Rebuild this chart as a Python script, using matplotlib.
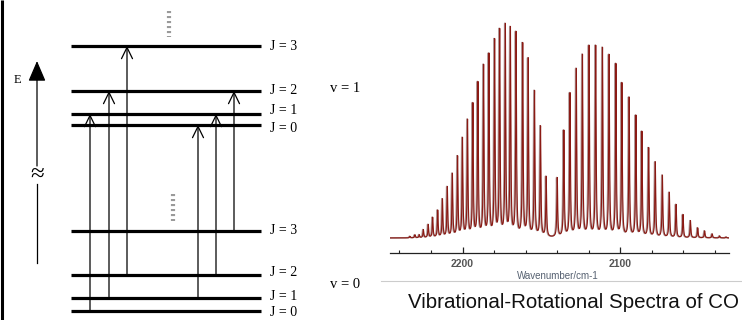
import numpy as np
import matplotlib
matplotlib.use('Agg')
import matplotlib.pyplot as plt

# ─── Energy level diagram (figure pixel coords, y downward) ─────────────────
upper_levels_y = [46, 91, 114, 125]      # v = 1, J = 3, 2, 1, 0
lower_levels_y = [231, 275, 298, 311]    # v = 0, J = 3, 2, 1, 0
upper_label_y = [46, 90, 111, 129]
lower_label_y = [231, 272, 296, 313]
level_labels = ['J = 3', 'J = 2', 'J = 1', 'J = 0']
level_x = (71, 261)

# transitions: (x, lower J, upper J)
trans_x = [90, 109, 127, 198, 216, 234]
trans_from = [0, 1, 2, 1, 2, 3]
trans_to = [1, 2, 3, 0, 1, 2]

# ─── CO spectrum: line positions (cm-1) and heights ─────────────────────────
r_pos = [2233.3, 2230.1, 2227.4, 2224.8, 2221.7, 2218.9, 2215.7, 2212.7, 2209.6,
         2206.4, 2203.1, 2200.0, 2196.8, 2193.4, 2190.2, 2186.6, 2183.2, 2179.6,
         2176.4, 2172.8, 2169.6, 2166.0, 2161.8, 2158.3, 2154.3, 2150.5, 2146.9]
r_height = [1.5, 3, 3, 8, 13, 20, 27, 38, 50, 63, 80, 98, 116, 132, 153, 170, 181,
            195, 205, 210, 207, 203, 192, 177, 145, 110, 60]
p_pos = [2139.9, 2135.7, 2131.8, 2127.8, 2123.9, 2119.7, 2115.5, 2111.2, 2107.0,
         2102.7, 2098.9, 2094.3, 2090.0, 2086.2, 2081.9, 2077.7, 2073.2, 2068.8,
         2064.5, 2060.1, 2055.4, 2050.8, 2046.4, 2041.6, 2036.9, 2032.7]
p_height = [59, 106, 143, 167, 181, 190, 190, 188, 181, 172, 153, 139, 121, 105,
            89, 75, 62, 45, 33, 23, 17, 10, 7, 4, 2, 1]

fig = plt.figure(figsize=(7.42, 3.2), dpi=100)
fig.patch.set_facecolor('white')

ax = fig.add_axes([0, 0, 1, 1])
ax.set_xlim(0, 742)
ax.set_ylim(320, 0)
ax.axis('off')

serif = ['Liberation Serif', 'DejaVu Serif']

# left border
ax.plot([1.5, 1.5], [0, 320], color='black', lw=2.2, solid_capstyle='butt')

for y, ly, lab in zip(upper_levels_y, upper_label_y, level_labels):
    ax.plot(level_x, [y, y], color='black', lw=2.3, solid_capstyle='butt')
    ax.text(270, ly, lab, family=serif, fontsize=10, va='center', ha='left')
for y, ly, lab in zip(lower_levels_y, lower_label_y, level_labels):
    ax.plot(level_x, [y, y], color='black', lw=2.3, solid_capstyle='butt')
    ax.text(270, ly, lab, family=serif, fontsize=10, va='center', ha='left')

ax.text(330, 88, 'v = 1', family=serif, fontsize=10.5, va='center', ha='left')
ax.text(330, 285, 'v = 0', family=serif, fontsize=10.5, va='center', ha='left')

# transitions
J_index = {3: 0, 2: 1, 1: 2, 0: 3}
for x, j0, j1 in zip(trans_x, trans_from, trans_to):
    y0 = lower_levels_y[J_index[j0]]
    y1 = upper_levels_y[J_index[j1]]
    ax.annotate('', xy=(x, y1), xytext=(x, y0),
                arrowprops=dict(arrowstyle='->,head_length=0.45,head_width=0.22',
                                color='black', lw=0.9, mutation_scale=18,
                                shrinkA=0, shrinkB=0))

# energy axis with break
ax.plot([37, 37], [263, 184], color='black', lw=0.9)
ax.annotate('', xy=(37, 61), xytext=(37, 166),
            arrowprops=dict(arrowstyle='-|>,head_length=0.7,head_width=0.3',
                            color='black', lw=0.9, mutation_scale=18,
                            shrinkA=0, shrinkB=0))
ax.text(37, 175, '\u2248', family=serif, fontsize=18, ha='center', va='center')
ax.text(17, 80, 'E', family=serif, fontsize=9, ha='center', va='center')

# "more levels" marks
ax.plot([169, 169], [11, 37], color='#9a9a9a', lw=3, ls=(0, (0.5, 0.7)))
ax.plot([173, 173], [194, 221], color='#9a9a9a', lw=3, ls=(0, (0.5, 0.7)))

# ─── Spectrum ───────────────────────────────────────────────────────────────
W = 742.0
H = 320.0
axs = fig.add_axes([390 / W, 1 - 253 / H, (729 - 390) / W, (253 - 20) / H])
centers = np.array(r_pos + p_pos)
heights = np.array(r_height + p_height)
wn = np.linspace(2031, 2246, 20000)
gam = 0.3
spec = np.zeros_like(wn)
for c, h in zip(centers, heights):
    spec += h * gam ** 2 / ((wn - c) ** 2 + gam ** 2)

axs.plot(wn + 0.4, spec, color='#b09898', lw=1.2)
axs.plot(wn, spec, color='#8b1a14', lw=0.8)
axs.set_xlim(2246, 2031)
axs.set_ylim(-15, 218)
for s in ['top', 'right', 'left']:
    axs.spines[s].set_visible(False)
axs.spines['bottom'].set_color('#222222')
axs.spines['bottom'].set_linewidth(0.9)
axs.set_yticks([])
axs.set_xticks([2200, 2100])
axs.set_xticks(np.arange(2040, 2241, 20), minor=True)
axs.tick_params(axis='x', which='major', direction='in', length=4.5, width=0.9,
                colors='#222222', pad=4)
axs.tick_params(axis='x', which='minor', direction='in', length=2.2, width=0.8,
                colors='#222222')
for lab in axs.get_xticklabels():
    lab.set_family('Liberation Sans')
    lab.set_fontsize(7.5)
    lab.set_fontweight('bold')
    lab.set_color('#555555')
axs.set_facecolor('none')

ax.text(558, 276, 'Wavenumber/cm-1', family='Liberation Sans', fontsize=7,
        color='#556070', ha='center', va='center')
ax.plot([381, 742], [281, 281], color='#cccccc', lw=0.8)
ax.text(574, 302, 'Vibrational-Rotational Spectra of CO', family='Liberation Sans',
        fontsize=14.8, color='#111111', ha='center', va='center')

fig.savefig('out.png', dpi=100)
